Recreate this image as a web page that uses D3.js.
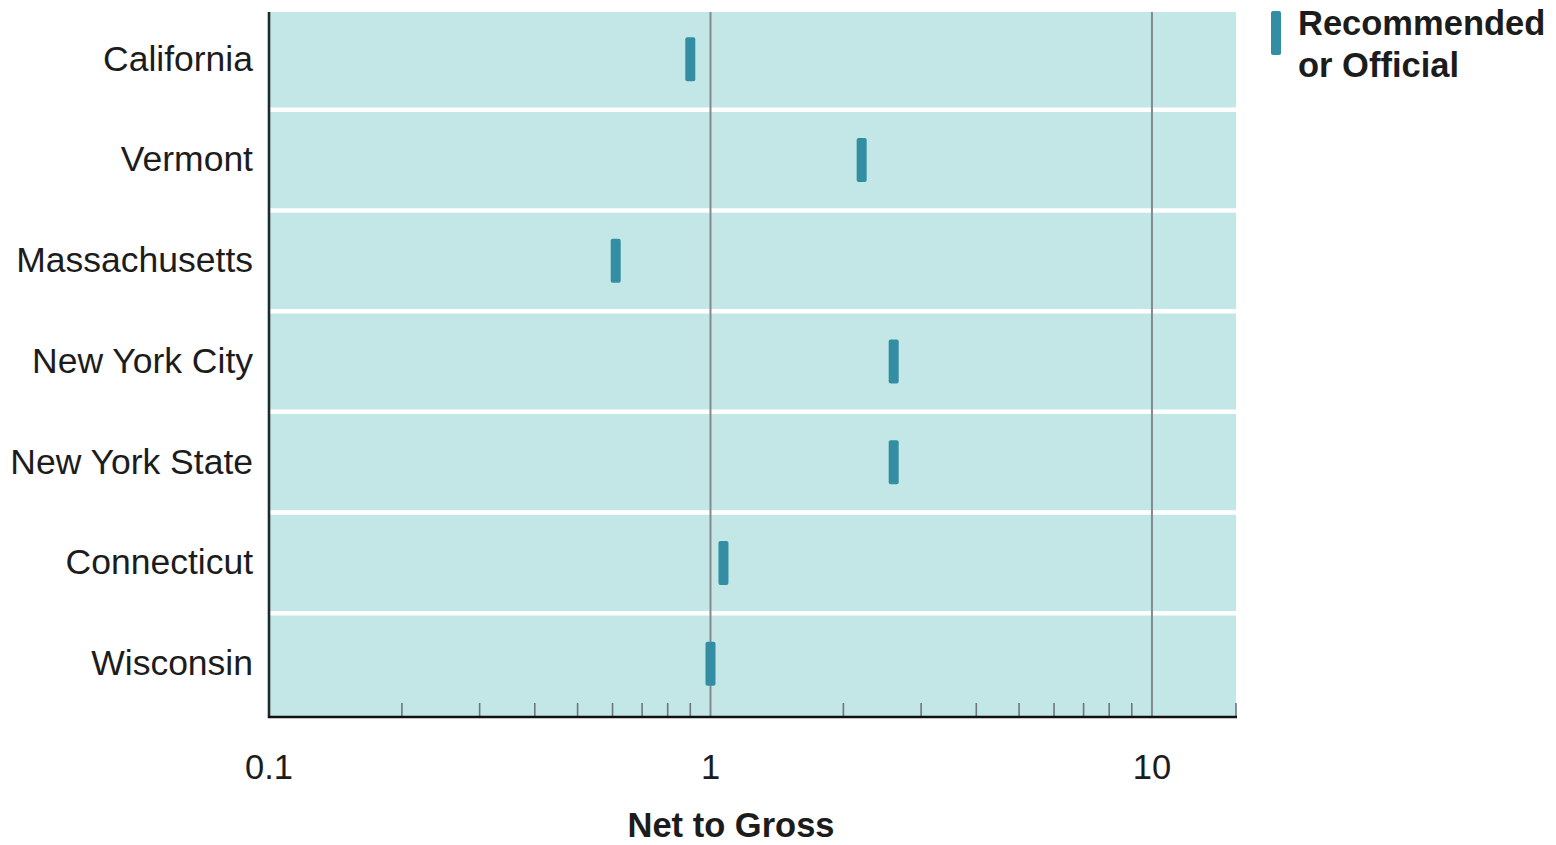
<!DOCTYPE html>
<html>
<head>
<meta charset="utf-8">
<script src="https://cdn.jsdelivr.net/npm/d3@7"></script>
<style>
  html, body { margin: 0; padding: 0; background: #ffffff; }
  svg { display: block; }
  text { font-family: "Liberation Sans", Arial, Helvetica, sans-serif; fill: #1c1c1c; }
</style>
</head>
<body>
<svg id="chart" width="1556" height="845"></svg>
<script>
// ---- data ----
const categories = ["California", "Vermont", "Massachusetts", "New York City", "New York State", "Connecticut", "Wisconsin"];
const values = [0.9, 2.2, 0.61, 2.6, 2.6, 1.07, 1.0];
const majorTicks = [0.1, 1, 10];
const majorTickLabels = ["0.1", "1", "10"];
const minorTicks = [0.2, 0.3, 0.4, 0.5, 0.6, 0.7, 0.8, 0.9, 2, 3, 4, 5, 6, 7, 8, 9, 15.5];
const xDomain = [0.1, 15.5];
const xTitle = "Net to Gross";
const legendLines = ["Recommended", "or Official"];

// ---- layout ----
(function () {
const svg = d3.select("#chart");
const pLeft = 269, pRight = 1236, pTop = 12, pBottom = 717;

const x = d3.scaleLog().domain(xDomain).range([pLeft, pRight]);
const y = d3.scaleBand().domain(categories).range([pTop, pBottom]).paddingInner(0).paddingOuter(0);

const bg = "#c3e6e6";
const markColor = "#338ea3";

// background
svg.append("rect")
  .attr("x", pLeft).attr("y", pTop)
  .attr("width", pRight - pLeft).attr("height", pBottom - pTop)
  .attr("fill", bg);

// white row separators
svg.append("g").selectAll("line")
  .data(categories.slice(1))
  .join("line")
  .attr("x1", pLeft).attr("x2", pRight)
  .attr("y1", d => y(d) - 3).attr("y2", d => y(d) - 3)
  .attr("stroke", "#ffffff").attr("stroke-width", 4.5);

// major gridlines (1 and 10)
svg.append("g").selectAll("line")
  .data(majorTicks.slice(1))
  .join("line")
  .attr("x1", d => x(d)).attr("x2", d => x(d))
  .attr("y1", pTop).attr("y2", pBottom)
  .attr("stroke", "#858b8c").attr("stroke-width", 2);

// minor ticks inside plot above axis
svg.append("g").selectAll("line")
  .data(minorTicks)
  .join("line")
  .attr("x1", d => x(d)).attr("x2", d => x(d))
  .attr("y1", pBottom - 14).attr("y2", pBottom)
  .attr("stroke", "#6f7678").attr("stroke-width", 1.6);

// marks
svg.append("g").selectAll("rect")
  .data(categories)
  .join("rect")
  .attr("x", (d, i) => x(values[i]) - 5)
  .attr("y", d => y(d) + y.bandwidth() / 2 - 25)
  .attr("width", 10).attr("height", 44)
  .attr("rx", 2)
  .attr("fill", markColor);

// axis lines
svg.append("line")
  .attr("x1", pLeft).attr("x2", pLeft)
  .attr("y1", pTop).attr("y2", pBottom + 1)
  .attr("stroke", "#1f2a2b").attr("stroke-width", 2.6);
svg.append("line")
  .attr("x1", pLeft - 1).attr("x2", pRight + 1)
  .attr("y1", pBottom).attr("y2", pBottom)
  .attr("stroke", "#111").attr("stroke-width", 2.6);

// category labels
svg.append("g").selectAll("text")
  .data(categories)
  .join("text")
  .attr("x", 253)
  .attr("y", d => y(d) + y.bandwidth() / 2 - 4)
  .attr("dy", "0.35em")
  .attr("text-anchor", "end")
  .attr("font-size", 35.5)
  .text(d => d);

// tick labels
svg.append("g").selectAll("text")
  .data(majorTicks)
  .join("text")
  .attr("x", d => x(d))
  .attr("y", 779)
  .attr("text-anchor", "middle")
  .attr("font-size", 34.5)
  .text((d, i) => majorTickLabels[i]);

// x title
svg.append("text")
  .attr("x", 731).attr("y", 837)
  .attr("text-anchor", "middle")
  .attr("font-size", 34.5)
  .attr("font-weight", "bold")
  .text(xTitle);

// legend
svg.append("rect")
  .attr("x", 1271).attr("y", 11)
  .attr("width", 10).attr("height", 44)
  .attr("rx", 2)
  .attr("fill", markColor);
svg.append("g").selectAll("text")
  .data(legendLines)
  .join("text")
  .attr("x", 1298)
  .attr("y", (d, i) => 35 + i * 42)
  .attr("font-size", 34.5)
  .attr("font-weight", "bold")
  .text(d => d);
})();
</script>
</body>
</html>
